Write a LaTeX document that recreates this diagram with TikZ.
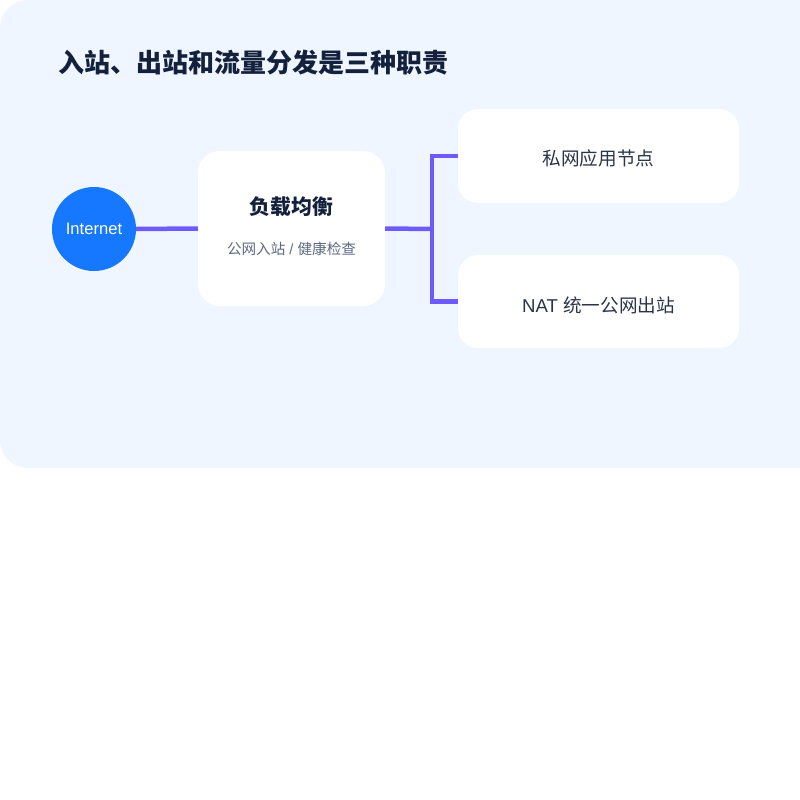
\documentclass[tikz,border=0pt]{standalone}
\usepackage{fontspec}
\setmainfont{Noto Sans CJK SC}
\newfontfamily\lat{Liberation Sans}
\definecolor{panelbg}{HTML}{EFF6FF}
\definecolor{titlec}{HTML}{14213D}
\definecolor{inetblue}{HTML}{1677FF}
\definecolor{linkc}{HTML}{6E5BFF}
\definecolor{subc}{HTML}{5C6A82}
\definecolor{textc}{HTML}{2A3548}
\tikzset{
  card/.style={fill=white, draw=none, rounded corners=20pt, inner sep=0pt},
  link/.style={draw=linkc, line width=4.5pt},
  cardtext/.style={text=textc, font=\fontsize{18.6}{20}\selectfont},
}
\begin{document}
\begin{tikzpicture}[x=1pt,y=-1pt]
\useasboundingbox (0,0) rectangle (800,800);
\fill[white] (0,0) rectangle (800,800);
\fill[panelbg, rounded corners=28pt] (0,0) rectangle (840,468);
\node[anchor=west, text=titlec, font=\bfseries\fontsize{26}{30}\selectfont, inner sep=0pt] (title) at (58,63) {入站、出站和流量分发是三种职责};
\node[circle, fill=inetblue, minimum size=84pt, inner sep=0pt, text=white, font=\lat\fontsize{16.6}{18}\selectfont] (inet) at (94,229) {Internet};
\node[card, minimum width=187pt, minimum height=155pt, rounded corners=22pt] (lb) at (291.5,228.5) {};
\node[text=titlec, font=\bfseries\fontsize{20.8}{24}\selectfont] (lbt) at (291.5,207) {负载均衡};
\node[text=subc, font=\fontsize{14.6}{16}\selectfont] (lbs) at (291.5,249) {公网入站{\lat\ / }健康检查};
\node[card, minimum width=281pt, minimum height=94pt] (app) at (598.5,156) {};
\node[cardtext] (appt) at (598.5,158.5) {私网应用节点};
\node[card, minimum width=281pt, minimum height=93pt] (nat) at (598.5,301.5) {};
\node[cardtext] (natt) at (598.5,305) {{\lat NAT }统一公网出站};
\coordinate (j) at (432,229);
\draw[link] (inet.east) -- (lb.west);
\draw[link] (lb.east) -- (j);
\draw[link] (app.west) -| (j) |- (nat.west);
\end{tikzpicture}
\end{document}
